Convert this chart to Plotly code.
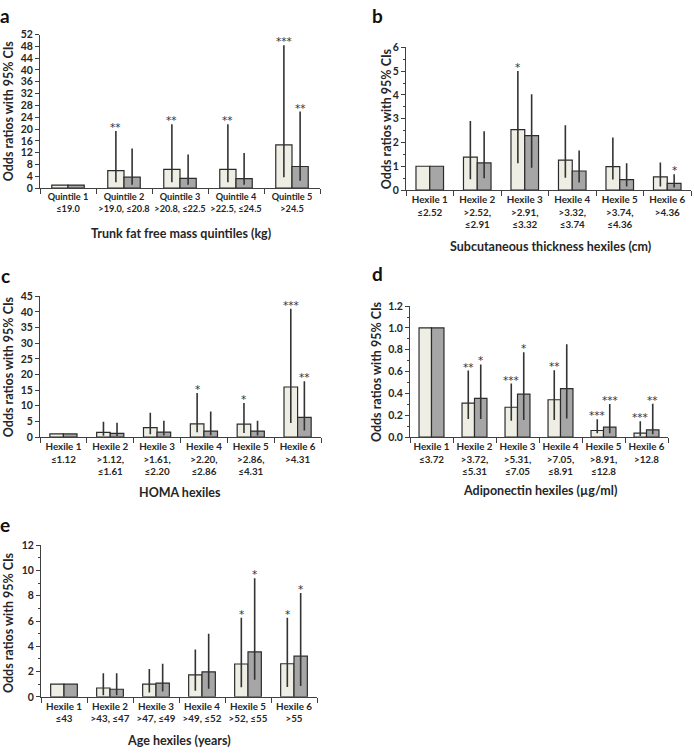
import plotly.graph_objects as go

W, H = 694, 755

# ---------------- DATA ----------------
# Panel a: Trunk fat free mass quintiles (kg)
a_labels = ["Quintile 1<br>≤19.0", "Quintile 2<br>>19.0, ≤20.8", "Quintile 3<br>>20.8, ≤22.5",
            "Quintile 4<br>>22.5, ≤24.5", "Quintile 5<br>>24.5"]
a_light = [1.0, 5.9, 6.3, 6.3, 14.6]
a_light_lo = [1.0, 2.0, 2.0, 2.0, 3.7]
a_light_hi = [1.0, 19.3, 21.6, 21.6, 48.4]
a_dark = [1.0, 3.7, 3.3, 3.2, 7.3]
a_dark_lo = [1.0, 1.1, 1.1, 1.1, 2.5]
a_dark_hi = [1.0, 13.4, 11.4, 11.9, 25.9]
a_sig_light = ["", "**", "**", "**", "***"]
a_sig_dark = ["", "", "", "", "**"]

# Panel b: Subcutaneous thickness hexiles (cm)
b_labels = ["Hexile 1<br>≤2.52", "Hexile 2<br>>2.52,<br>≤2.91", "Hexile 3<br>>2.91,<br>≤3.32",
            "Hexile 4<br>>3.32,<br>≤3.74", "Hexile 5<br>>3.74,<br>≤4.36", "Hexile 6<br>>4.36"]
b_light = [1.0, 1.38, 2.54, 1.26, 0.98, 0.55]
b_light_lo = [1.0, 0.45, 1.13, 0.52, 0.44, 0.15]
b_light_hi = [1.0, 2.90, 5.00, 2.72, 2.21, 1.16]
b_dark = [1.0, 1.14, 2.29, 0.80, 0.44, 0.28]
b_dark_lo = [1.0, 0.50, 0.94, 0.32, 0.15, 0.11]
b_dark_hi = [1.0, 2.47, 4.03, 1.66, 1.13, 0.66]
b_sig_light = ["", "", "*", "", "", ""]
b_sig_dark = ["", "", "", "", "", "*"]

# Panel c: HOMA hexiles
c_labels = ["Hexile 1<br>≤1.12", "Hexile 2<br>>1.12,<br>≤1.61", "Hexile 3<br>>1.61,<br>≤2.20",
            "Hexile 4<br>>2.20,<br>≤2.86", "Hexile 5<br>>2.86,<br>≤4.31", "Hexile 6<br>>4.31"]
c_light = [1.0, 1.5, 3.0, 4.2, 4.1, 16.0]
c_light_lo = [1.0, 0.4, 0.9, 1.5, 1.3, 4.5]
c_light_hi = [1.0, 4.9, 7.8, 14.1, 10.9, 41.0]
c_dark = [1.0, 1.15, 1.6, 1.9, 1.9, 6.3]
c_dark_lo = [1.0, 0.3, 0.5, 0.6, 0.5, 2.1]
c_dark_hi = [1.0, 4.6, 5.2, 8.2, 5.2, 17.8]
c_sig_light = ["", "", "", "*", "*", "***"]
c_sig_dark = ["", "", "", "", "", "**"]

# Panel d: Adiponectin hexiles (µg/ml)
d_labels = ["Hexile 1<br>≤3.72", "Hexile 2<br>>3.72,<br>≤5.31", "Hexile 3<br>>5.31,<br>≤7.05",
            "Hexile 4<br>>7.05,<br>≤8.91", "Hexile 5<br>>8.91,<br>≤12.8", "Hexile 6<br>>12.8"]
d_light = [1.0, 0.31, 0.273, 0.342, 0.06, 0.036]
d_light_lo = [1.0, 0.165, 0.15, 0.156, 0.035, 0.01]
d_light_hi = [1.0, 0.61, 0.49, 0.612, 0.162, 0.144]
d_dark = [1.0, 0.354, 0.393, 0.444, 0.09, 0.066]
d_dark_lo = [1.0, 0.165, 0.156, 0.17, 0.035, 0.025]
d_dark_hi = [1.0, 0.666, 0.777, 0.85, 0.303, 0.306]
d_sig_light = ["", "**", "***", "**", "***", "***"]
d_sig_dark = ["", "*", "*", "", "***", "**"]

# Panel e: Age hexiles (years)
e_labels = ["Hexile 1<br>≤43", "Hexile 2<br>>43, ≤47", "Hexile 3<br>>47, ≤49",
            "Hexile 4<br>>49, ≤52", "Hexile 5<br>>52, ≤55", "Hexile 6<br>>55"]
e_light = [1.0, 0.7, 1.01, 1.74, 2.6, 2.62]
e_light_lo = [1.0, 0.13, 0.34, 0.49, 0.75, 0.78]
e_light_hi = [1.0, 1.87, 2.2, 3.74, 6.26, 6.26]
e_dark = [1.0, 0.6, 1.09, 1.97, 3.56, 3.22]
e_dark_lo = [1.0, 0.13, 0.42, 0.65, 1.35, 0.86]
e_dark_hi = [1.0, 1.87, 2.62, 4.99, 9.4, 8.23]
e_sig_light = ["", "", "", "", "*", "*"]
e_sig_dark = ["", "", "", "", "*", "*"]

# ---------------- STYLE ----------------
FONT = "Lato"
TXT = "#262626"
LIGHT = "#EEEEE4"
DARK = "#A6A6A6"
EDGE = "#2b2b2b"
CI = "#333333"
BW = 0.29

panels = [
    dict(letter="a", labels=a_labels, L=(a_light, a_light_lo, a_light_hi), D=(a_dark, a_dark_lo, a_dark_hi),
         sL=a_sig_light, sD=a_sig_dark, box=(40, 320, 29, 185), yr=52, dt=4, minor=None, tfs=9.2,
         xt="Trunk fat free mass quintiles (kg)", xtp=(181, 231), ytp=(8, 107), lp=(5, 10), fmt=None),
    dict(letter="b", labels=b_labels, L=(b_light, b_light_lo, b_light_hi), D=(b_dark, b_dark_lo, b_dark_hi),
         sL=b_sig_light, sD=b_sig_dark, box=(406, 691, 42, 187), yr=6, dt=1, minor=0.5, tfs=9.8,
         xt="Subcutaneous thickness hexiles (cm)", xtp=(550, 244), ytp=(386, 115), lp=(377, 10), fmt=None),
    dict(letter="c", labels=c_labels, L=(c_light, c_light_lo, c_light_hi), D=(c_dark, c_dark_lo, c_dark_hi),
         sL=c_sig_light, sD=c_sig_dark, box=(40, 321, 295, 438), yr=45, dt=5, minor=None, tfs=9.8,
         xt="HOMA hexiles", xtp=(180, 494), ytp=(8, 367), lp=(5, 274), fmt=None),
    dict(letter="d", labels=d_labels, L=(d_light, d_light_lo, d_light_hi), D=(d_dark, d_dark_lo, d_dark_hi),
         sL=d_sig_light, sD=d_sig_dark, box=(410, 668, 305, 438), yr=1.2, dt=0.2, minor=0.1, tfs=9.8,
         xt="Adiponectin hexiles (µg/ml)", xtp=(540, 492), ytp=(376, 371), lp=(377, 272), fmt=".1f"),
    dict(letter="e", labels=e_labels, L=(e_light, e_light_lo, e_light_hi), D=(e_dark, e_dark_lo, e_dark_hi),
         sL=e_sig_light, sD=e_sig_dark, box=(41, 317, 548, 702), yr=12, dt=2, minor=1, tfs=9.8,
         xt="Age hexiles (years)", xtp=(179, 746), ytp=(8, 627), lp=(5, 527), fmt=None),
]

fig = go.Figure()
annotations = []
layout = {}

for i, p in enumerate(panels):
    k = "" if i == 0 else str(i + 1)
    xa, ya = "x" + k, "y" + k
    n = len(p["labels"])
    xs = list(range(n))
    for (vals, lo, hi), fill, off in ((p["L"], LIGHT, -BW), (p["D"], DARK, 0.0)):
        fig.add_trace(go.Bar(
            x=xs, y=vals, xaxis=xa, yaxis=ya, width=BW, offset=off,
            marker=dict(color=fill, line=dict(color=EDGE, width=1.2)),
            error_y=dict(type="data", symmetric=False,
                         array=[h - v for h, v in zip(hi, vals)],
                         arrayminus=[v - l for v, l in zip(vals, lo)],
                         width=0, thickness=1.6, color=CI),
            showlegend=False, hoverinfo="y"))
    for sig, hi_list, sh in ((p["sL"], p["L"][2], -BW / 2), (p["sD"], p["D"][2], BW / 2)):
        for j, s in enumerate(sig):
            if s:
                annotations.append(dict(x=j + sh, y=hi_list[j], xref=xa, yref=ya, text=s,
                                        showarrow=False, yanchor="bottom", yshift=-4,
                                        font=dict(family="DejaVu Sans", size=10.5, color="#333333")))
    x0, x1, y0, y1 = p["box"]
    layout["xaxis" + k] = dict(
        domain=[x0 / W, x1 / W], anchor=ya, range=[-0.5, n - 0.5],
        tickmode="array", tickvals=xs, ticktext=p["labels"], ticks="", tickangle=0,
        showline=True, linecolor="#404040", linewidth=1, showgrid=False, zeroline=False,
        tickfont=dict(family=FONT, size=p["tfs"], color=TXT, weight="bold"),
        minor=dict(tickmode="linear", tick0=-0.5, dtick=1, ticks="outside", ticklen=5,
                   tickcolor="#404040", showgrid=False),
        fixedrange=True)
    yd = dict(
        domain=[1 - y1 / H, 1 - y0 / H], anchor=xa, range=[0, p["yr"]],
        tickmode="linear", tick0=0, dtick=p["dt"], ticks="outside", ticklen=4, tickcolor="#404040",
        showline=True, linecolor="#404040", linewidth=1, showgrid=False, zeroline=False,
        tickfont=dict(family=FONT, size=10.5, color=TXT, weight="bold"), fixedrange=True)
    if p["fmt"]:
        yd["tickformat"] = p["fmt"]
    if p["minor"]:
        yd["minor"] = dict(tickmode="linear", tick0=0, dtick=p["minor"], ticks="outside", ticklen=2,
                           tickcolor="#404040", showgrid=False)
    layout["yaxis" + k] = yd
    annotations.append(dict(x=p["xtp"][0] / W, y=1 - p["xtp"][1] / H, xref="paper", yref="paper",
                            text=p["xt"], showarrow=False, xanchor="center", yanchor="middle",
                            font=dict(family=FONT, size=12.5, color=TXT, weight="bold")))
    annotations.append(dict(x=p["ytp"][0] / W, y=1 - p["ytp"][1] / H, xref="paper", yref="paper",
                            text="Odds ratios with 95% CIs", textangle=-90, showarrow=False,
                            xanchor="center", yanchor="middle",
                            font=dict(family=FONT, size=12.5, color=TXT, weight="bold")))
    annotations.append(dict(x=p["lp"][0] / W, y=1 - p["lp"][1] / H, xref="paper", yref="paper",
                            text=p["letter"], showarrow=False, xanchor="center", yanchor="middle",
                            font=dict(family=FONT, size=19, color="#111111", weight="bold")))

fig.update_layout(
    width=W, height=H, margin=dict(l=0, r=0, t=0, b=0),
    paper_bgcolor="white", plot_bgcolor="white", barmode="overlay",
    showlegend=False, annotations=annotations, **layout)

fig.write_html("out.html", config={"displayModeBar": False},
               post_script="document.body.style.margin='0px';document.body.style.overflow='hidden';")
